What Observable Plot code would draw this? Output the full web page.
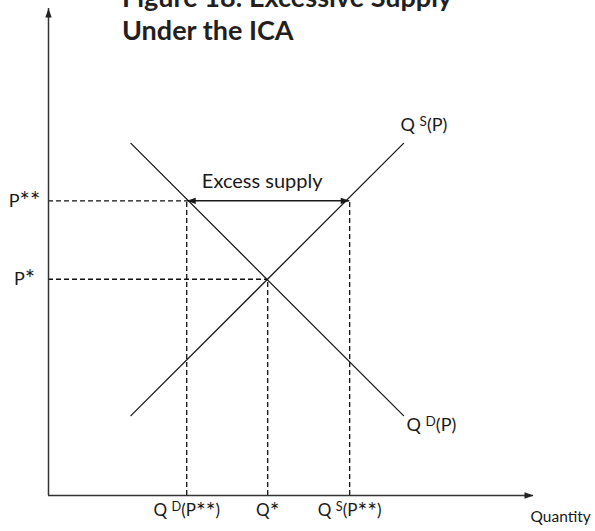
<!DOCTYPE html>
<html>
<head>
<meta charset="utf-8">
<script src="https://cdn.jsdelivr.net/npm/d3@7"></script>
<script src="https://cdn.jsdelivr.net/npm/@observablehq/plot@0.6"></script>
<style>
  html, body { margin: 0; padding: 0; background: #fff; overflow: hidden; }
  #wrap { position: relative; width: 595px; height: 531px; overflow: hidden; }
  #title { position: absolute; left: 122px; top: -20px; font-family: Lato, sans-serif; font-weight: 700;
           font-size: 27px; line-height: 33px; color: #231f20; white-space: nowrap; }
  svg { display: block; }
</style>
</head>
<body>
<div id="wrap">
  <div id="chart"></div>
  <div id="title">Figure 18: Excessive Supply<br>Under the ICA</div>
</div>
<script>
// ---- data (x: quantity, y: price, axes 0..100) ----
const supplyQ = [17, 73.2];
const supplyP = [16.4, 72.3];
const demandQ = [17, 73.2];
const demandP = [72.3, 16.4];
const equilibriumQ = 45.2;   // Q*
const equilibriumP = 44.4;   // P*
const icaPrice = 60.5;       // P**
const demandAtIca = 28.5;    // Q^D(P**)
const supplyAtIca = 62.1;    // Q^S(P**)
const priceLabels = ["P**", "P*"];
const quantityLabels = ["Q ^D(P**)", "Q*", "Q ^S(P**)"];
const curveLabels = ["Q ^S(P)", "Q ^D(P)"];
const arrowLabel = "Excess supply";
const axisLabelX = "Quantity";

const supply = supplyQ.map((q, i) => ({q, p: supplyP[i]}));
const demand = demandQ.map((q, i) => ({q, p: demandP[i]}));
const prices = [icaPrice, equilibriumP];
const quantities = [demandAtIca, equilibriumQ, supplyAtIca];
const hDash = [{x1: 0, x2: demandAtIca, y: icaPrice}, {x1: 0, x2: equilibriumQ, y: equilibriumP}];
const vDash = [{x: demandAtIca, y: icaPrice}, {x: equilibriumQ, y: equilibriumP}, {x: supplyAtIca, y: icaPrice}];

const ink = "#1a1a1a";
const font = "Lato, sans-serif";

const chart = Plot.plot({
  width: 595,
  height: 531,
  marginLeft: 48,
  marginRight: 62,
  marginTop: 8,
  marginBottom: 36,
  x: {domain: [0, 100], axis: null},
  y: {domain: [0, 100], axis: null},
  style: {fontFamily: font, color: ink, background: "white"},
  marks: [
    // dashed guides
    Plot.ruleY(hDash, {x1: "x1", x2: "x2", y: "y", stroke: "#111", strokeWidth: 1.3, strokeDasharray: "5,3"}),
    Plot.ruleX(vDash, {x: "x", y1: 0, y2: "y", stroke: "#111", strokeWidth: 1.3, strokeDasharray: "5,3"}),
    // axes
    Plot.ruleX([0], {y1: 0, y2: 100, stroke: "#333", strokeWidth: 1.5}),
    Plot.ruleY([0], {x1: 0, x2: 100, stroke: "#333", strokeWidth: 1.5}),
    Plot.vector([{x: 0, y: 100}], {x: "x", y: "y", rotate: 0, length: 9, r: 3.2, shape: "spike", anchor: "end", fill: "#222", stroke: "none"}),
    Plot.vector([{x: 100, y: 0}], {x: "x", y: "y", rotate: 90, length: 9, r: 3.2, shape: "spike", anchor: "end", fill: "#222", stroke: "none"}),
    // curves
    Plot.line(supply, {x: "q", y: "p", stroke: ink, strokeWidth: 1.3}),
    Plot.line(demand, {x: "q", y: "p", stroke: ink, strokeWidth: 1.3}),
    // excess supply arrow
    Plot.ruleY([icaPrice], {x1: demandAtIca, x2: supplyAtIca, stroke: ink, strokeWidth: 1.5}),
    Plot.vector([{x: supplyAtIca, y: icaPrice, rot: 90}, {x: demandAtIca, y: icaPrice, rot: -90}],
      {x: "x", y: "y", rotate: "rot", length: 9, r: 3.2, shape: "spike", anchor: "end", fill: ink, stroke: "none"}),
    Plot.text([arrowLabel], {x: [(demandAtIca + supplyAtIca) / 2], y: [icaPrice], dx: -6, dy: -19, fontSize: 20, fill: ink}),
    // price labels
    Plot.text(priceLabels, {x: [0, 0], y: prices, dx: -24, textAnchor: "middle", fontSize: 18, fill: ink}),
    // quantity labels
    Plot.text(quantityLabels, {x: quantities, y: [0, 0, 0], dy: 15, textAnchor: "middle", fontSize: 17, fill: ink}),
    Plot.text([axisLabelX], {x: [100], y: [0], dx: -3, dy: 22, textAnchor: "start", fontSize: 15.5, fill: ink}),
    // curve labels
    Plot.text([curveLabels[0]], {x: [supplyQ[1]], y: [supplyP[1]], dx: -3, dy: -18, textAnchor: "start", fontSize: 18, fill: ink}),
    Plot.text([curveLabels[1]], {x: [demandQ[1]], y: [demandP[1]], dx: 3, dy: 10, textAnchor: "start", fontSize: 18, fill: ink})
  ]
});

// rich text: "^X" -> small raised X; "*" runs -> larger asterisks
d3.select(chart).selectAll("text").each(function () {
  const t = this.textContent;
  if (!/[\^*]/.test(t)) return;
  const tokens = t.match(/\^\w|\*+|[^\^*]+/g);
  const sel = d3.select(this);
  sel.text(null);
  let off = 0;
  for (const tok of tokens) {
    let target = 0, size = null, txt = tok;
    if (tok[0] === "^") { target = -5; size = "0.75em"; txt = tok.slice(1); }
    else if (tok[0] === "*") { target = 3; size = "1.35em"; }
    const ts = sel.append("tspan").text(txt);
    if (target !== off) ts.attr("dy", target - off);
    if (size) ts.attr("font-size", size);
    off = target;
  }
  if (off !== 0) sel.append("tspan").attr("dy", -off).text("");
});

document.getElementById("chart").appendChild(chart);
</script>
</body>
</html>
